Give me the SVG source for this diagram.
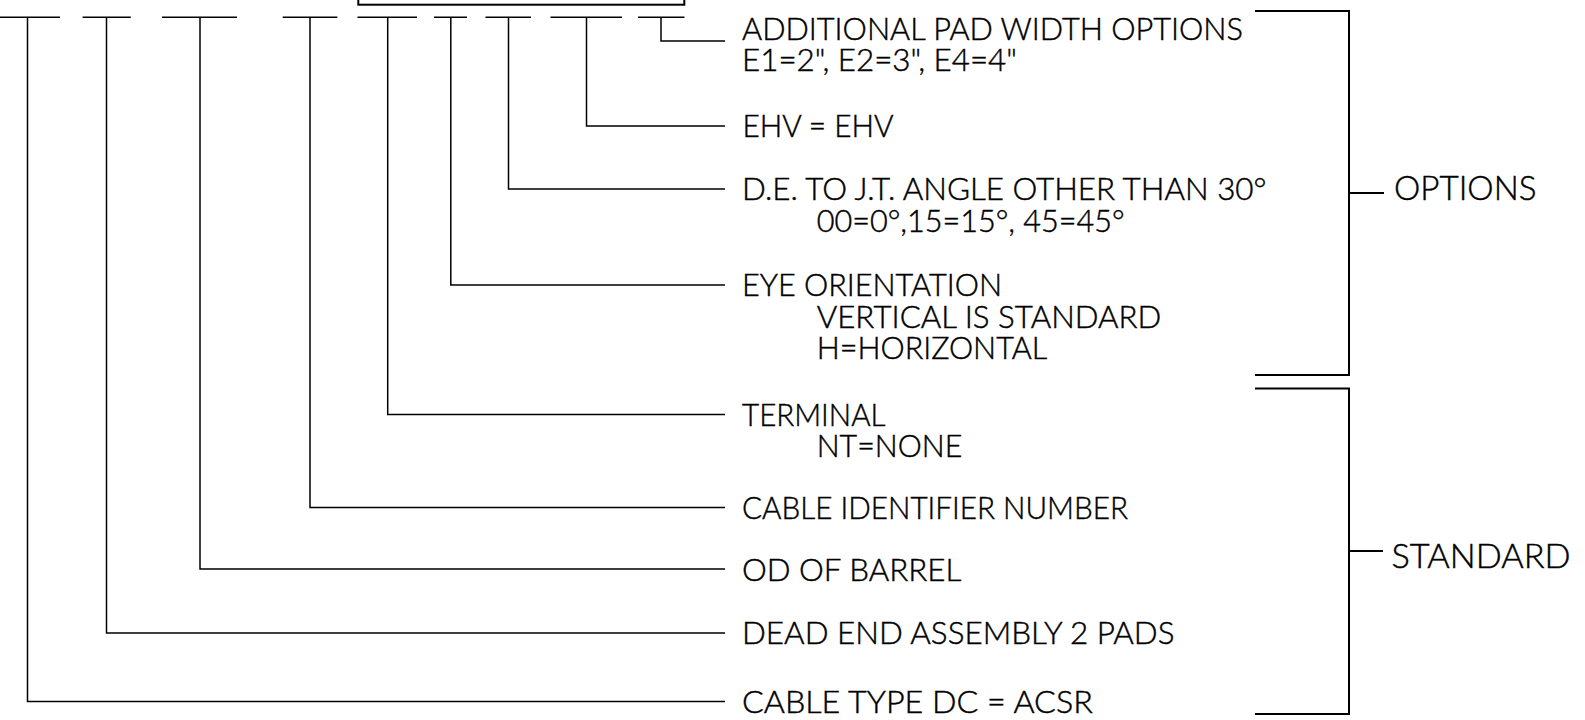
<svg xmlns="http://www.w3.org/2000/svg" width="1585" height="720" viewBox="0 0 1585 720">
<style>
.ln{fill:none;stroke:#000;stroke-width:1.5}
.bk{fill:none;stroke:#000;stroke-width:2}
.t{font-family:Lato,"Liberation Sans",sans-serif;font-weight:300;font-size:31.4px;fill:#000;stroke:#000;stroke-width:0.45px}
.g{font-family:Lato,"Liberation Sans",sans-serif;font-weight:300;font-size:33.5px;fill:#000;stroke:#000;stroke-width:0.45px}
</style>
<rect width="1585" height="720" fill="#fff"/>
<g id="code-box">
<rect class="bk" x="358.3" y="-10" width="326" height="14.7"/>
</g>
<g id="connectors">
<path class="ln" d="M0,17.3H60M82.6,17.3H130.8M162,17.3H237M282.7,17.3H337.4M357.5,17.3H417M434,17.3H467M485.5,17.3H531M550.5,17.3H622M638,17.3H684.5"/>
<path class="ln" d="M661,17.3V41H725"/>
<path class="ln" d="M586.5,17.3V126H725"/>
<path class="ln" d="M508.5,17.3V189H725"/>
<path class="ln" d="M450.8,17.3V285H725"/>
<path class="ln" d="M387.7,17.3V414.5H725"/>
<path class="ln" d="M310,17.3V507.5H725"/>
<path class="ln" d="M200,17.3V569H725"/>
<path class="ln" d="M106.5,17.3V633H725"/>
<path class="ln" d="M27.5,17.3V701.5H725"/>
</g>
<g id="item-pad-width">
<text class="t" x="742" y="39.5" textLength="501" lengthAdjust="spacingAndGlyphs">ADDITIONAL PAD WIDTH OPTIONS</text>
<text class="t" x="742" y="71" textLength="275" lengthAdjust="spacingAndGlyphs">E1=2", E2=3", E4=4"</text>
</g>
<g id="item-ehv">
<text class="t" x="742.5" y="137" textLength="151" lengthAdjust="spacingAndGlyphs">EHV = EHV</text>
</g>
<g id="item-angle">
<text class="t" x="742" y="200.3" textLength="524.5" lengthAdjust="spacingAndGlyphs">D.E. TO J.T. ANGLE OTHER THAN 30°</text>
<text class="t" x="816.7" y="231.8" textLength="308" lengthAdjust="spacingAndGlyphs">00=0°,15=15°, 45=45°</text>
</g>
<g id="item-eye">
<text class="t" x="742" y="296.3" textLength="260" lengthAdjust="spacingAndGlyphs">EYE ORIENTATION</text>
<text class="t" x="816.7" y="327.8" textLength="344.7" lengthAdjust="spacingAndGlyphs">VERTICAL IS STANDARD</text>
<text class="t" x="816.7" y="359.3" textLength="230.5" lengthAdjust="spacingAndGlyphs">H=HORIZONTAL</text>
</g>
<g id="item-terminal">
<text class="t" x="742" y="425.8" textLength="143.5" lengthAdjust="spacingAndGlyphs">TERMINAL</text>
<text class="t" x="816.7" y="457.3" textLength="145.6" lengthAdjust="spacingAndGlyphs">NT=NONE</text>
</g>
<g id="item-cable-id">
<text class="t" x="742" y="518.8" textLength="386" lengthAdjust="spacingAndGlyphs">CABLE IDENTIFIER NUMBER</text>
</g>
<g id="item-od">
<text class="t" x="742" y="581" textLength="219.3" lengthAdjust="spacingAndGlyphs">OD OF BARREL</text>
</g>
<g id="item-dead-end">
<text class="t" x="742" y="644.3" textLength="432.5" lengthAdjust="spacingAndGlyphs">DEAD END ASSEMBLY 2 PADS</text>
</g>
<g id="item-cable-type">
<text class="t" x="742" y="712.8" textLength="350.7" lengthAdjust="spacingAndGlyphs">CABLE TYPE DC = ACSR</text>
</g>
<g id="group-options">
<path class="bk" d="M1255,11H1349V375H1255M1349,193H1384"/>
<text class="g" x="1394" y="200" textLength="142.5" lengthAdjust="spacingAndGlyphs">OPTIONS</text>
</g>
<g id="group-standard">
<path class="bk" d="M1255,388.5H1349V714H1255M1349,551H1383"/>
<text class="g" x="1391.5" y="568.3" textLength="179" lengthAdjust="spacingAndGlyphs">STANDARD</text>
</g>
</svg>
